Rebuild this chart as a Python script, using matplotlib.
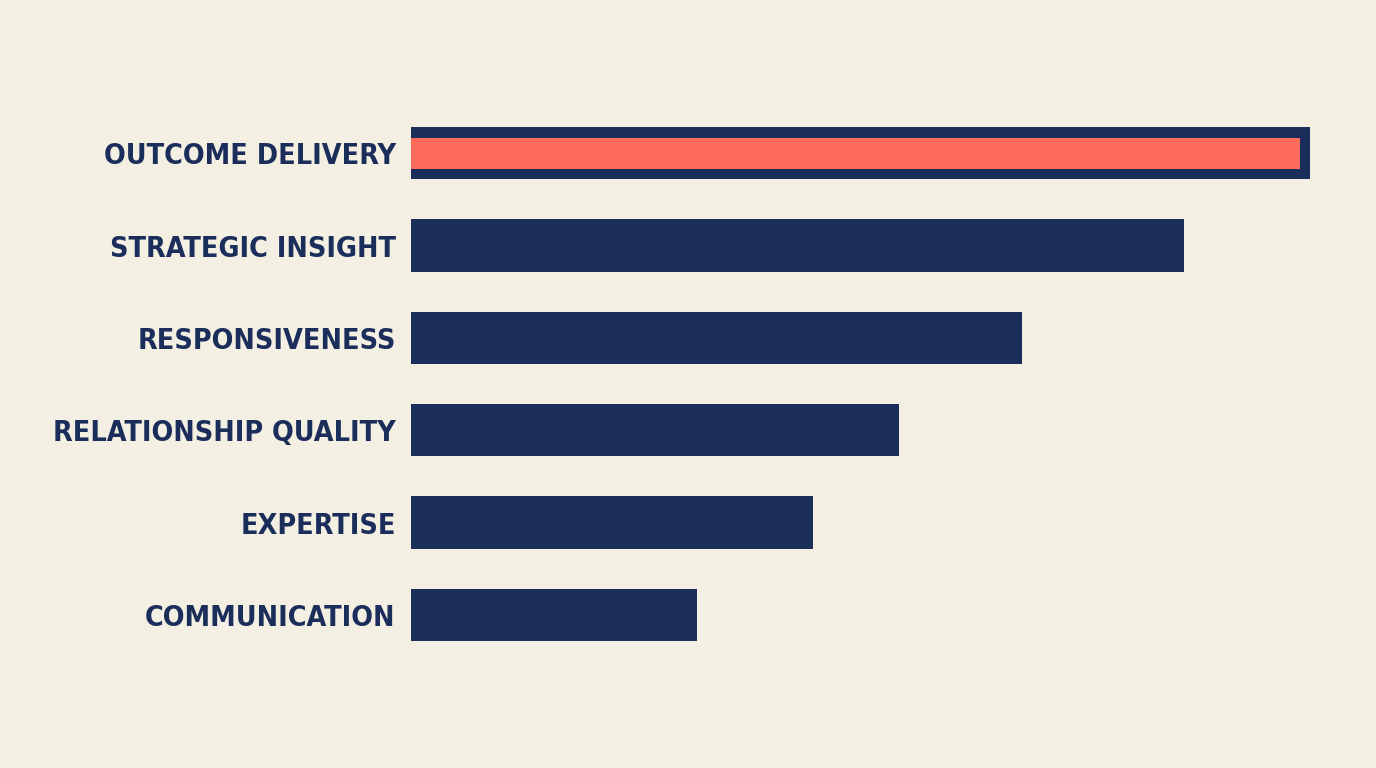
import matplotlib.pyplot as plt

categories = ['OUTCOME DELIVERY', 'STRATEGIC INSIGHT', 'RESPONSIVENESS',
              'RELATIONSHIP QUALITY', 'EXPERTISE', 'COMMUNICATION']
values = [100, 86, 68, 54.3, 44.7, 31.8]

navy = '#1B2D5A'
coral = '#FF6B5A'
bg = '#F3EFE3'

fig = plt.figure(figsize=(13.76, 7.68), dpi=100, facecolor=bg)
ax = fig.add_axes([411 / 1376, 1 - 661 / 768, 899 / 1376, 554 / 768])
ax.set_facecolor(bg)

pos = list(range(len(categories)))
bar_h = 0.565
ax.barh(pos, values, height=bar_h, color=navy, edgecolor='none')
# highlighted top bar: coral fill inset inside navy frame
ax.barh(pos[0], values[0] - 1.1, height=bar_h * 0.6, color=coral, edgecolor='none')

ax.set_xlim(0, 100)
ax.set_ylim(5.5, -0.5)
ax.set_yticks(pos)
ax.set_yticklabels(categories, fontsize=20.5, fontweight='bold', color=navy,
                   family=['DejaVu Sans'], fontstretch='condensed')
ax.tick_params(axis='y', length=0, pad=11)
ax.set_xticks([])
for s in ax.spines.values():
    s.set_visible(False)

fig.savefig('out.png', dpi=100, facecolor=bg)
